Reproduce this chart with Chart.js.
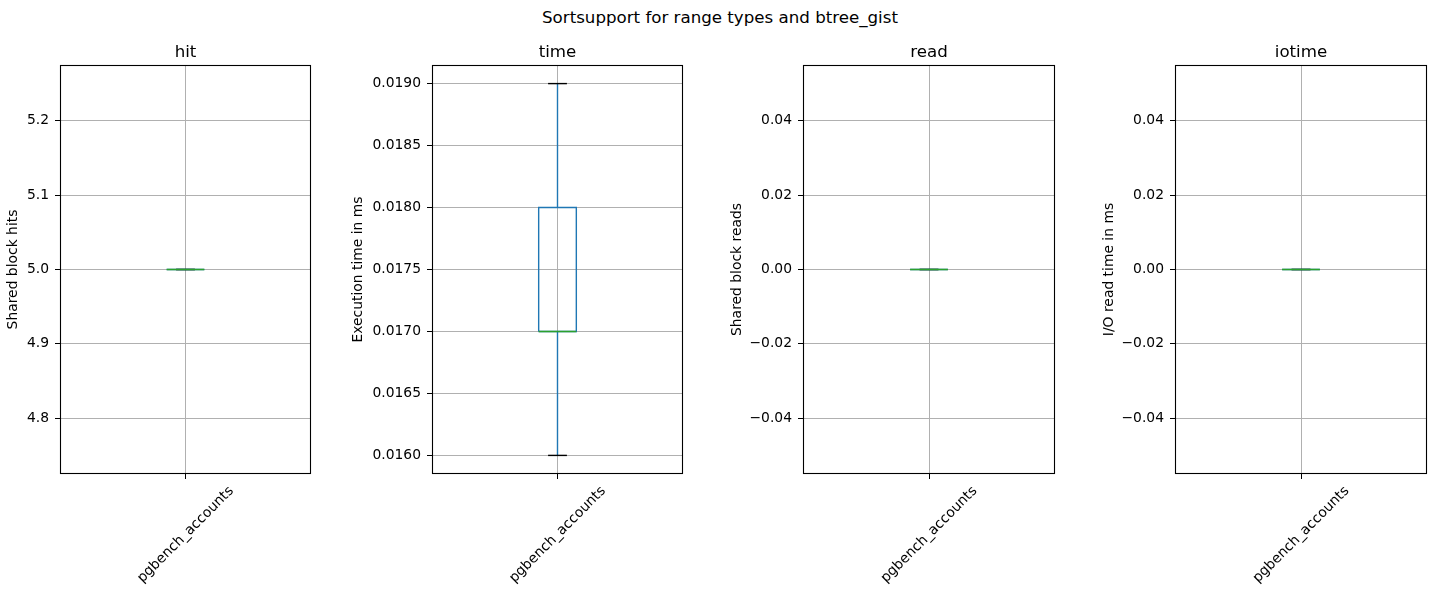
<!DOCTYPE html>
<html>
<head>
<meta charset="utf-8">
<script src="https://cdn.jsdelivr.net/npm/chart.js@4"></script>
<style>
  html, body { margin: 0; padding: 0; background: #fff; }
  #fig { position: relative; width: 1440px; height: 600px; background: #fff; overflow: hidden; }
  #sup { position: absolute; left: 0; top: 8px; width: 1440px; text-align: center;
         font-family: "DejaVu Sans", sans-serif; font-size: 16.67px; line-height: 20px; color: #000; }
  canvas { position: absolute; top: 0; }
</style>
</head>
<body>
<div id="fig">
  <div id="sup">Sortsupport for range types and btree_gist</div>
  <canvas id="c0"></canvas>
  <canvas id="c1"></canvas>
  <canvas id="c2"></canvas>
  <canvas id="c3"></canvas>
</div>
<script>
// ---- data ----
const categories = ['pgbench_accounts'];
const panelTitles = ['hit', 'time', 'read', 'iotime'];
const yLabels = ['Shared block hits', 'Execution time in ms', 'Shared block reads', 'I/O read time in ms'];

// box statistics per panel: [whiskerLow, q1, median, q3, whiskerHigh]
const hitStats    = [5, 5, 5, 5, 5];
const timeStats   = [0.016, 0.017, 0.017, 0.018, 0.019];
const readStats   = [0, 0, 0, 0, 0];
const iotimeStats = [0, 0, 0, 0, 0];

// y-axis limits
const hitRange    = [4.725, 5.275];
const timeRange   = [0.01585, 0.01915];
const readRange   = [-0.055, 0.055];
const iotimeRange = [-0.055, 0.055];

// tick labels
const hitTicks    = [4.8, 4.9, 5.0, 5.1, 5.2];
const timeTicks   = [0.016, 0.0165, 0.017, 0.0175, 0.018, 0.0185, 0.019];
const readTicks   = [-0.04, -0.02, 0.0, 0.02, 0.04];
const iotimeTicks = [-0.04, -0.02, 0.0, 0.02, 0.04];
const tickDecimals = [1, 4, 2, 2];

// ---- layout (figure pixels) ----
const plotLeft  = [60, 432, 803, 1175];
const plotRight = [311, 683, 1055, 1427];
const yAxisW    = [60, 86, 78, 78];
const yLabelX   = [13, 358.5, 737, 1109];
const plotTop = 65, plotBottom = 474, rightPad = 4;
const titleBaseline = 57.3;

const stats = [hitStats, timeStats, readStats, iotimeStats];
const ranges = [hitRange, timeRange, readRange, iotimeRange];
const ticks = [hitTicks, timeTicks, readTicks, iotimeTicks];

Chart.defaults.color = '#000';
Chart.defaults.font.family = '"DejaVu Sans", sans-serif';

const BOX_HALF = 0.075, CAP_HALF = 0.0375;
const BLUE = '#1f77b4', GREEN = '#2ca02c', BLACK = '#000000';
const LABEL_SIZE = 13.89, TITLE_SIZE = 16.67;

function fmt(v, d) {
  let s = Math.abs(v) < 1e-12 ? (0).toFixed(d) : v.toFixed(d);
  return s.replace('-', '\u2212');
}

const frame = {
  id: 'frame',
  afterDraw(chart, args, opts) {
    const a = chart.chartArea, ctx = chart.ctx;
    ctx.save();
    ctx.strokeStyle = '#000';
    ctx.lineWidth = 1.1;
    ctx.strokeRect(Math.round(a.left) + 0.5, Math.round(a.top) + 0.5,
                   Math.round(a.right - a.left) - 1, Math.round(a.bottom - a.top) - 1);
    // panel title centred on the plot area
    ctx.fillStyle = '#000';
    ctx.font = TITLE_SIZE + 'px "DejaVu Sans", sans-serif';
    ctx.textAlign = 'center';
    ctx.textBaseline = 'alphabetic';
    ctx.fillText(opts.text, (a.left + a.right) / 2, titleBaseline);
    ctx.restore();
  }
};

function seg(x1, y1, x2, y2) { return [{x: x1, y: y1}, {x: x2, y: y2}]; }

for (let p = 0; p < 4; p++) {
  const cv = document.getElementById('c' + p);
  const left = plotLeft[p] - yAxisW[p];
  const w = plotRight[p] - plotLeft[p] + yAxisW[p] + rightPad;
  cv.style.left = left + 'px';
  cv.style.width = w + 'px';
  cv.style.height = '600px';
  cv.width = w; cv.height = 600;
  const titlePad = yLabelX[p] - left - LABEL_SIZE * 1.2 / 2;

  const datasets = [];
  categories.forEach((c, i) => {
    const pos = i + 1;
    const [wlo, q1, med, q3, whi] = stats[p];
    const line = (data, color) => ({
      type: 'scatter', data, showLine: true, borderColor: color, borderWidth: 1.4,
      pointRadius: 0, pointHoverRadius: 0, fill: false, tension: 0
    });
    // first dataset drawn on top
    datasets.push(line(seg(pos - BOX_HALF, med, pos + BOX_HALF, med), GREEN));
    datasets.push(line([
      {x: pos - BOX_HALF, y: q1}, {x: pos + BOX_HALF, y: q1},
      {x: pos + BOX_HALF, y: q3}, {x: pos - BOX_HALF, y: q3},
      {x: pos - BOX_HALF, y: q1}], BLUE));
    datasets.push(line(seg(pos - CAP_HALF, wlo, pos + CAP_HALF, wlo), BLACK));
    datasets.push(line(seg(pos - CAP_HALF, whi, pos + CAP_HALF, whi), BLACK));
    datasets.push(line(seg(pos, q1, pos, wlo), BLUE));
    datasets.push(line(seg(pos, q3, pos, whi), BLUE));
  });

  new Chart(cv, {
    type: 'scatter',
    data: { datasets },
    plugins: [frame],
    options: {
      responsive: false,
      animation: false,
      devicePixelRatio: 1,
      layout: { padding: { left: 0, right: rightPad, top: plotTop, bottom: 0 } },
      plugins: {
        legend: { display: false },
        tooltip: { enabled: false },
        title: { display: false },
        frame: { text: panelTitles[p] }
      },
      scales: {
        x: {
          type: 'linear', min: 0.5, max: 1.5,
          afterBuildTicks(s) { s.ticks = categories.map((c, i) => ({ value: i + 1 })); },
          afterFit(s) { s.height = 600 - plotBottom; s.paddingLeft = 0; s.paddingRight = 0; },
          grid: { color: '#b0b0b0', lineWidth: 1, tickColor: '#000', tickLength: 5, tickWidth: 1 },
          border: { display: false },
          ticks: {
            autoSkip: false, minRotation: 45, maxRotation: 45,
            padding: 4, labelOffset: 46,
            font: { size: LABEL_SIZE },
            callback: (v) => categories[Math.round(v) - 1]
          }
        },
        y: {
          type: 'linear', min: ranges[p][0], max: ranges[p][1],
          afterBuildTicks(s) { s.ticks = ticks[p].map(v => ({ value: v })); },
          afterFit(s) { s.width = yAxisW[p]; s.paddingTop = 0; s.paddingBottom = 0; },
          grid: { color: '#b0b0b0', lineWidth: 1, tickColor: '#000', tickLength: 5, tickWidth: 1 },
          border: { display: false },
          title: {
            display: true, text: yLabels[p], color: '#000',
            font: { size: LABEL_SIZE, lineHeight: 1.2 },
            padding: { top: titlePad, bottom: 0 }
          },
          ticks: {
            padding: 6,
            font: { size: LABEL_SIZE },
            callback: (v) => fmt(v, tickDecimals[p])
          }
        }
      }
    }
  });
}
</script>
</body>
</html>
